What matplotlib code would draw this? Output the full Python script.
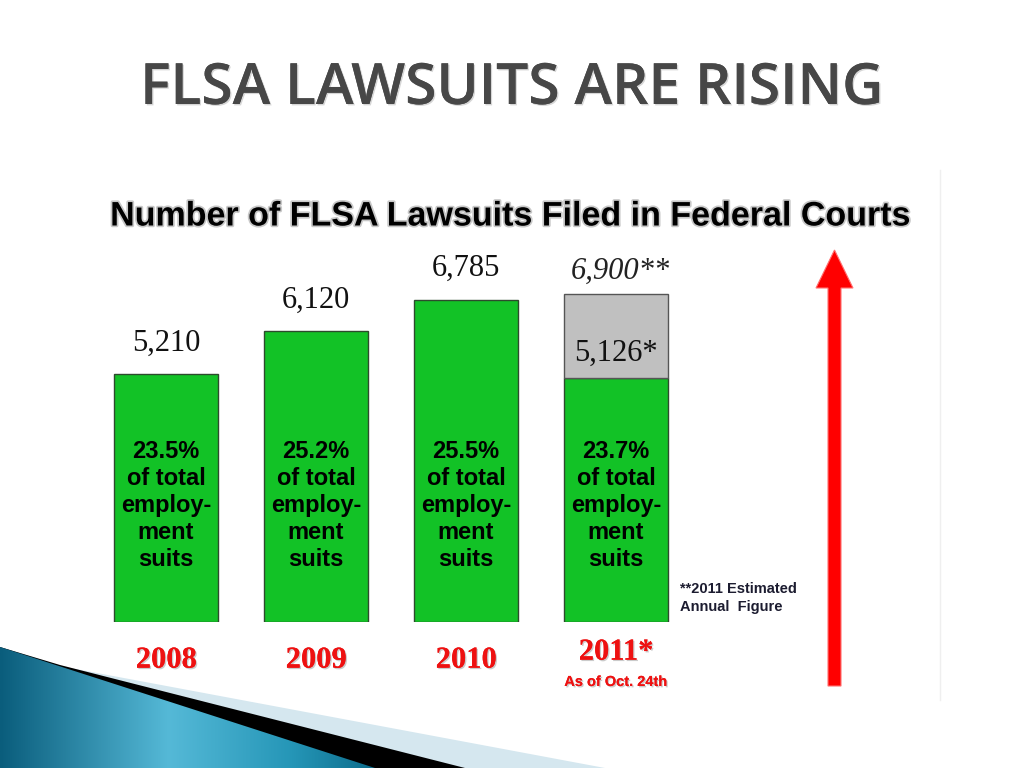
import numpy as np
import matplotlib
matplotlib.use("Agg")
import matplotlib.pyplot as plt
import matplotlib.patheffects as pe
from matplotlib.patches import Polygon, FancyArrow
from matplotlib.colors import LinearSegmentedColormap

# data
years = ["2008", "2009", "2010", "2011*"]
filed = [5210, 6120, 6785, 5126]
value_labels = ["5,210", "6,120", "6,785", "5,126*"]
estimate_2011 = 6900
estimate_label = "6,900**"
share_labels = ["23.5%", "25.2%", "25.5%", "23.7%"]

W, H = 1024, 768
fig = plt.figure(figsize=(W / 100, H / 100), dpi=100)

# background layer in pixel coordinates
bg = fig.add_axes([0, 0, 1, 1], zorder=0)
bg.set_xlim(0, W)
bg.set_ylim(H, 0)
bg.axis("off")

# swoosh in the lower left corner
bg.add_patch(Polygon([(0, 647), (65, 667), (605, 768), (0, 768)], closed=True,
                     facecolor="#d5e7ef", edgecolor="none"))
bg.add_patch(Polygon([(0, 647), (60, 665), (465, 768), (0, 768)], closed=True,
                     facecolor="black", edgecolor="none"))
blue = Polygon([(0, 647), (375, 768), (0, 768)], closed=True,
               facecolor="none", edgecolor="none")
bg.add_patch(blue)
cmap = LinearSegmentedColormap.from_list(
    "sw", [(0, "#0a5d7c"), (0.45, "#55b9d7"), (0.78, "#2596b7"), (1, "#0c6c8b")])
grad = np.tile(np.linspace(0, 1, 256), (10, 1))
im = bg.imshow(grad, cmap=cmap, extent=(0, 375, 768, 647), aspect="auto", zorder=1)
im.set_clip_path(blue)

# faint frame edge of the pasted chart
bg.plot([940, 940], [170, 700], color="#efefef", lw=1)

# red arrow
bg.add_patch(FancyArrow(834.5, 686, 0, -436, width=13, head_width=37, head_length=38,
                        length_includes_head=True, facecolor="#ff0000",
                        edgecolor="#ff7070", lw=0.8))

# titles
fig.text(512 / W, 1 - 90 / H, "FLSA LAWSUITS ARE RISING", ha="center", va="center",
         fontsize=41, family="Open Sans", weight="semibold", color="#474747",
         path_effects=[pe.withSimplePatchShadow(offset=(1, -1), shadow_rgbFace="#bbbbbb", alpha=0.6),
                       pe.Normal()])
fig.text(510 / W, 1 - 217 / H, "Number of FLSA Lawsuits Filed in Federal Courts",
         ha="center", va="center", fontsize=24.5, family="Liberation Sans",
         weight="bold", color="black",
         path_effects=[pe.withStroke(linewidth=2.5, foreground="#c8c8c8")])

# bar chart
ax = fig.add_axes([0, (H - 622) / H, 1, 382 / H], zorder=2)
ax.patch.set_alpha(0)
ax.set_xlim(-1.107, W / 150 - 1.107)
ax.set_ylim(0, 8040)
ax.axis("off")

x = np.arange(len(years))
bw = 0.69
ax.bar(x, filed, width=bw, color="#12c226", edgecolor="#2d4a2d", lw=1.0)
ax.bar(x[3], estimate_2011 - filed[3], bottom=filed[3], width=bw,
       color="#c0c0c0", edgecolor="#555555", lw=1.0)

serif = "Liberation Serif"
for i in range(3):
    ax.annotate(value_labels[i], (x[i], filed[i]), xytext=(0, 12), textcoords="offset points",
                ha="center", va="bottom", fontsize=22, family=serif, color="#111111")
ax.annotate(value_labels[3], (x[3], filed[3]), xytext=(0, 8), textcoords="offset points",
            ha="center", va="bottom", fontsize=22, family=serif, color="#111111")
ax.annotate(estimate_label, (x[3], estimate_2011), xytext=(3, 6), textcoords="offset points",
            ha="center", va="bottom", fontsize=22, family=serif, style="italic",
            color="#222222")

for i, s in enumerate(share_labels):
    ax.text(x[i], 2460, s + "\nof total\nemploy-\nment\nsuits", ha="center", va="center",
            fontsize=17, family="Liberation Sans", weight="bold", color="black",
            linespacing=1.22)

xt = ax.get_xaxis_transform()
red_fx = [pe.withSimplePatchShadow(offset=(1, -1), shadow_rgbFace="#999999", alpha=0.5), pe.Normal()]
for i, yr in enumerate(years[:3]):
    ax.text(x[i], -0.1, yr, transform=xt, ha="center", va="center", fontsize=22,
            family=serif, weight="bold", color="#ee1111", path_effects=red_fx)
ax.text(x[3], -0.079, years[3], transform=xt, ha="center", va="center", fontsize=22,
        family=serif, weight="bold", color="#ee1111", path_effects=red_fx)
ax.text(x[3], -0.157, "As of Oct. 24th", transform=xt, ha="center", va="center",
        fontsize=10.5, family="Liberation Sans", weight="bold", color="#ee1111",
        path_effects=red_fx)

fig.text(680 / W, 1 - 598 / H, "**2011 Estimated\nAnnual  Figure", ha="left", va="center",
         fontsize=10.5, family="Liberation Sans", weight="bold", color="#1c1c30",
         linespacing=1.3, zorder=3)

fig.savefig("out.png", dpi=100)
